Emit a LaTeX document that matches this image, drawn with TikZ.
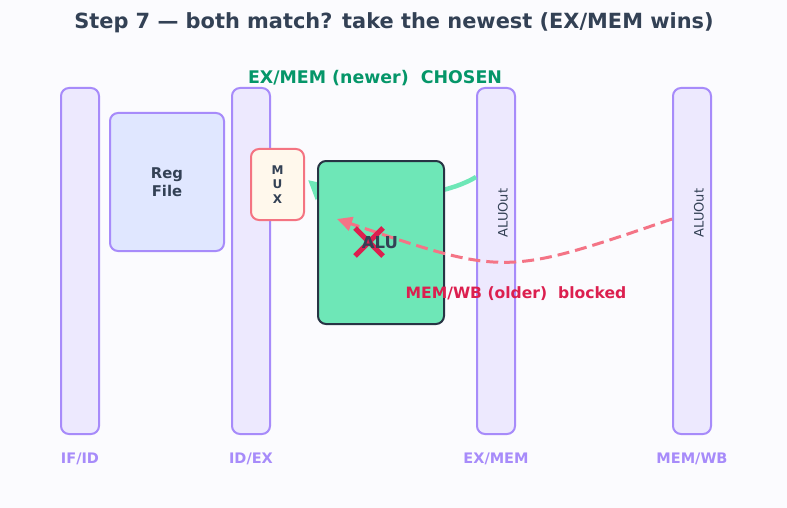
\documentclass[tikz,border=0pt]{standalone}
\usepackage{fontspec}
\setmainfont{DejaVu Sans}
\usetikzlibrary{arrows.meta}
\definecolor{bgcol}{HTML}{FBFBFE}
\definecolor{regline}{HTML}{A78BFA}
\definecolor{regfill}{HTML}{EDE9FE}
\definecolor{rffill}{HTML}{E0E7FF}
\definecolor{muxline}{HTML}{F47482}
\definecolor{muxfill}{HTML}{FFF8EC}
\definecolor{alufill}{HTML}{6EE7B7}
\definecolor{aluline}{HTML}{273444}
\definecolor{ink}{HTML}{334155}
\definecolor{okgreen}{HTML}{059669}
\definecolor{badred}{HTML}{DC1F4F}
\definecolor{dashred}{HTML}{F47486}

\begin{document}
\begin{tikzpicture}[x=1pt, y=-1pt,
        pipereg/.style={draw=regline, fill=regfill, line width=2pt, rounded corners=8pt,
            minimum width=38pt, minimum height=346pt, inner sep=0pt},
        reglabel/.style={text=regline, font=\bfseries\fontsize{14.5}{17}\selectfont},
        outlabel/.style={text=ink, rotate=90, font=\fontsize{13}{15}\selectfont},
        fwdok/.style={draw=alufill, line width=4.5pt, -{Triangle[length=19pt,width=19pt]}},
        fwdbad/.style={draw=dashred, line width=3pt, dash pattern=on 12pt off 6pt,
            -{Triangle[length=15pt,width=14pt]}}]
        \fill[bgcol] (0,0) rectangle (787,508);
        \useasboundingbox (0,0) rectangle (787,508);

        \node[text=ink, font=\bfseries\fontsize{20.9}{24}\selectfont] (title) at (394,23)
            {Step 7 — both match? take the newest (EX/MEM wins)};

        \node[pipereg] (ifid) at (80,261) {};
        \node[pipereg] (idex) at (251,261) {};
        \node[pipereg] (exmem) at (496,261) {};
        \node[pipereg] (memwb) at (692,261) {};
        \node[reglabel] (ifidlbl) at (80,459) {IF/ID};
        \node[reglabel] (idexlbl) at (251,459) {ID/EX};
        \node[reglabel] (exmemlbl) at (496,459) {EX/MEM};
        \node[reglabel] (memwblbl) at (692,459) {MEM/WB};
        \node[outlabel] (exmemout) at (503,213) {ALUOut};
        \node[outlabel] (memwbout) at (699,213) {ALUOut};

        \node[draw=regline, fill=rffill, line width=2pt, rounded corners=8pt, minimum width=114pt,
            minimum height=138pt, align=center, text=ink,
            font=\bfseries\fontsize{14.8}{17.5}\selectfont] (regfile) at (167,182) {Reg\\File};
        \node[draw=muxline, fill=muxfill, line width=2pt, rounded corners=8pt, minimum width=53pt,
            minimum height=71pt, align=center, text=ink,
            font=\bfseries\fontsize{12}{14.7}\selectfont] (mux) at (277.5,184.5) {M\\U\\X};

        \draw[fwdok] ([yshift=84pt]exmem.west) .. controls (430,205) and (330,199) .. ([xshift=3pt,yshift=4.5pt]mux.east);

        \node[draw=aluline, fill=alufill, line width=2pt, rounded corners=8pt, minimum width=126pt,
            minimum height=163pt] (alu) at (381,242.5) {};

        \draw[fwdbad] ([yshift=42pt]memwb.west) .. controls (505,276) .. ([xshift=20pt,yshift=-59pt]alu.north west);
        \draw[badred, line width=5pt] (355,228) -- (383,256) (355,256) -- (383,228);
        \node[text=ink, font=\bfseries\fontsize{16.5}{19}\selectfont] (alulbl) at (380,243) {ALU};

        \node[text=okgreen, font=\bfseries\fontsize{17.4}{20}\selectfont] (chosen) at (375,78)
            {EX/MEM (newer)\ \ CHOSEN};
        \node[text=badred, font=\bfseries\fontsize{15.6}{18}\selectfont] (blocked) at (516,294)
            {MEM/WB (older)\ \ blocked};
    \end{tikzpicture}
\end{document}
